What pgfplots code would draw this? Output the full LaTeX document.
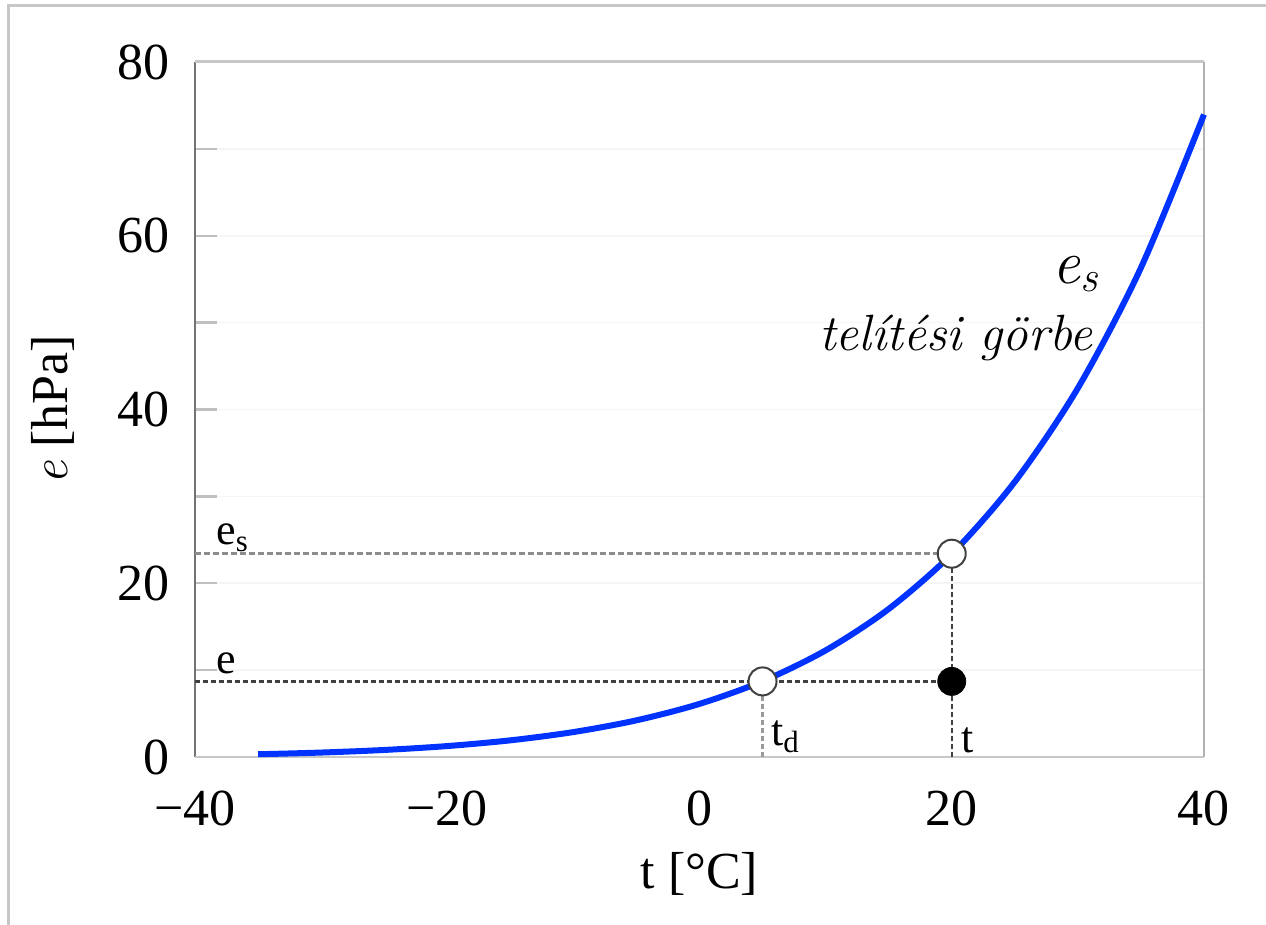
\documentclass[border=0pt]{standalone}
\usepackage{fontspec}
\setmainfont{Liberation Serif}
\newfontfamily\lmroman{Latin Modern Roman}
\usepackage{pgfplots}
\pgfplotsset{compat=1.18}
\definecolor{curveblue}{RGB}{0,51,255}
\begin{document}
\fontsize{26}{30}\selectfont
\begin{tikzpicture}
\path[use as bounding box] (-97.5pt,-84pt) rectangle (535.5pt,378.5pt);
\draw[line width=1.5pt, black!22] (-93pt,-84pt) -- (-93pt,375.5pt) -- (535.5pt,375.5pt);
\begin{axis}[
  at={(0pt,0pt)}, anchor=south west,
  scale only axis, width=504.5pt, height=347.5pt,
  xmin=-40, xmax=40, ymin=0, ymax=80,
  axis line style={draw=none},
  xtick={-40,-20,0,20,40},
  xticklabels={−40,−20,0,20,40},
  ytick={0,20,40,60,80},
  minor ytick={10,30,50,70},
  ytick pos=left,
  ymajorgrids, yminorgrids,
  grid style={black!4, line width=0.8pt},
  minor grid style={black!4, line width=0.8pt},
  major tick length=11pt, minor tick length=11pt,
  tick style={black!25, line width=1.2pt},
  xtick style={draw=none},
  tick align=inside,
  /pgf/number format/assume math mode=true,
  yticklabel style={xshift=-4pt},
  xticklabel style={yshift=-8pt},
  xlabel={t [°C]}, ylabel={{\lmroman\itshape e} [hPa]},
  xlabel style={yshift=4pt},
  ylabel style={yshift=4pt},
  clip=false,
]
% frame
\draw[black!55, line width=1.2pt] (axis cs:-40,0) -- (axis cs:-40,80);
\draw[black!22, line width=1.5pt] (axis cs:-40,80) -- (axis cs:40,80);
\draw[black!30, line width=1.2pt] (axis cs:40,80) -- (axis cs:40,0);
\draw[black!22, line width=1.2pt] (axis cs:-40,0) -- (axis cs:40,0);
% dashed guides
\addplot[black!45, line width=1.5pt, dash pattern=on 3pt off 1.5pt] coordinates {(-40,23.4) (20,23.4)};
\addplot[black!75, line width=1.2pt, dash pattern=on 2.5pt off 1.5pt] coordinates {(-40,8.7) (20,8.7)};
\addplot[black!75, line width=1.2pt, dash pattern=on 2.5pt off 1.5pt] coordinates {(20,0) (20,23.4)};
\addplot[black!40, line width=1.5pt, dash pattern=on 2.5pt off 1.5pt] coordinates {(5,0) (5,8.7)};
% saturation curve
\addplot[curveblue, line width=3pt, smooth] coordinates {
(-35,0.315) (-30,0.510) (-25,0.809) (-20,1.257) (-15,1.916) (-10,2.868) (-5,4.220)
(0,6.112) (5,8.721) (10,12.27) (15,17.04) (20,23.37) (25,31.68) (30,42.46) (35,56.31) (40,73.95)};
% points
\addplot[only marks, mark=*, mark size=7pt, mark options={fill=white, draw=black!75, line width=1pt}] coordinates {(5,8.7) (20,23.4)};
\addplot[only marks, mark=*, mark size=7pt, mark options={fill=black, draw=black}] coordinates {(20,8.7)};
% labels
\node[anchor=south west, inner sep=1pt, font=\fontsize{22}{26}\selectfont] at (axis cs:-38.5,23.4) {e\textsubscript{s}};
\node[anchor=south west, inner sep=1pt, font=\fontsize{22}{26}\selectfont] at (axis cs:-38.5,9.3) {e};
\node[anchor=south west, inner sep=1pt, font=\fontsize{22}{26}\selectfont] at (axis cs:5.5,0.2) {t\textsubscript{d}};
\node[anchor=south west, inner sep=1pt, font=\fontsize{22}{26}\selectfont] at (axis cs:20.6,0.2) {t};
\node[anchor=south east, inner sep=0pt, font=\fontsize{31}{35}\selectfont\lmroman\itshape] at (axis cs:31.7,53.5) {e\textsubscript{s}};
\node[anchor=base east, inner sep=0pt, font=\fontsize{25.5}{30}\selectfont\lmroman\itshape] at (axis cs:31.2,46.8) {telítési görbe};
\end{axis}
\end{tikzpicture}
\end{document}
